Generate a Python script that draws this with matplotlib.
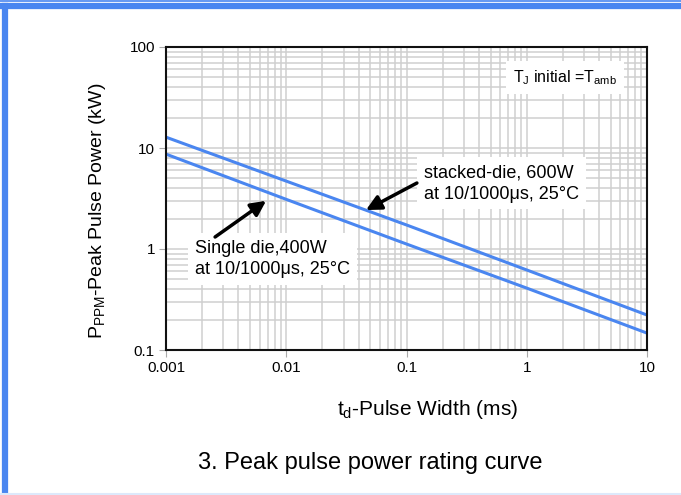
import matplotlib
matplotlib.use("Agg")
import matplotlib.pyplot as plt
from matplotlib.lines import Line2D
from matplotlib.ticker import LogLocator, FixedLocator, FixedFormatter

plt.rcParams["font.family"] = ["Liberation Sans", "DejaVu Sans"]
plt.rcParams["mathtext.default"] = "regular"

# pulse width (ms) and peak pulse power (kW)
pulse_ms = [0.001, 0.01, 0.1, 1, 10]
stacked_kw = [12.8, 4.7, 1.73, 0.62, 0.222]
single_kw = [8.7, 3.1, 1.12, 0.41, 0.147]

x_ticks = [0.001, 0.01, 0.1, 1, 10]
x_labels = ["0.001", "0.01", "0.1", "1", "10"]
y_ticks = [0.1, 1, 10, 100]
y_labels = ["0.1", "1", "10", "100"]

blue = "#4a86f0"
grid_col = "#cfcfcf"

fig = plt.figure(figsize=(6.81, 4.95), dpi=100)
ax = fig.add_axes([166 / 681, 1 - 350 / 495, 481 / 681, 303 / 495])

ax.plot(pulse_ms, stacked_kw, color=blue, lw=2.2)
ax.plot(pulse_ms, single_kw, color=blue, lw=2.2)

ax.set_xscale("log")
ax.set_yscale("log")
ax.set_xlim(0.001, 10)
ax.set_ylim(0.1, 100)
ax.xaxis.set_major_locator(FixedLocator(x_ticks))
ax.xaxis.set_major_formatter(FixedFormatter(x_labels))
ax.yaxis.set_major_locator(FixedLocator(y_ticks))
ax.yaxis.set_major_formatter(FixedFormatter(y_labels))
ax.xaxis.set_minor_locator(LogLocator(base=10, subs=range(2, 10), numticks=20))
ax.yaxis.set_minor_locator(LogLocator(base=10, subs=range(2, 10), numticks=20))
ax.tick_params(which="minor", length=0)
ax.tick_params(which="major", length=5, color="#aaaaaa", labelsize=11, pad=3)
ax.grid(True, which="both", color=grid_col, lw=1.1)
ax.set_axisbelow(True)
for s in ax.spines.values():
    s.set_linewidth(1.5)
    s.set_color("#111111")

ax.set_xlabel("$t_d$-Pulse Width (ms)", fontsize=15)
ax.xaxis.set_label_coords(0.543, -0.157)
ax.set_ylabel("$P_{PPM}$-Peak Pulse Power (kW)", fontsize=14)
ax.yaxis.set_label_coords(-0.121, 0.459)

box = dict(facecolor="white", edgecolor="none", pad=5)
ax.text(0.938, 0.90, "$T_J$ initial =$T_{amb}$", transform=ax.transAxes,
        ha="right", va="center", fontsize=11.5, bbox=box)

arrow = dict(arrowstyle="-|>,head_length=0.9,head_width=0.45",
             color="black", lw=2.5, shrinkA=0, shrinkB=0)

# stacked-die label and arrow (text left edge in axes fraction)
ax.text(0.537, 0.55, "stacked-die, 600W\nat 10/1000\u03bcs, 25\u00b0C",
        transform=ax.transAxes, fontsize=13, ha="left", va="center",
        linespacing=1.35, bbox=box)
ax.annotate("", xy=(0.046, 2.43), xytext=(0.122, 4.5), arrowprops=arrow)

# single die label and arrow
ax.text(0.06, 0.30, "Single die,400W\nat 10/1000\u03bcs, 25\u00b0C",
        transform=ax.transAxes, fontsize=13, ha="left", va="center",
        linespacing=1.35, bbox=box)
ax.annotate("", xy=(0.0068, 3.0), xytext=(0.00256, 1.315), arrowprops=arrow)

fig.text(370 / 681, 1 - 463 / 495, "3. Peak pulse power rating curve",
         ha="center", va="center", fontsize=17)

# blue frame around the screenshot
fig.add_artist(Line2D([0, 1], [1 - 1 / 495, 1 - 1 / 495], color=blue, lw=1.2,
                      transform=fig.transFigure))
fig.add_artist(Line2D([0, 1], [1 - 6 / 495, 1 - 6 / 495], color=blue, lw=4.5,
                      transform=fig.transFigure))
fig.add_artist(Line2D([4.5 / 681, 4.5 / 681], [0, 1 - 6 / 495], color=blue, lw=4.5,
                      transform=fig.transFigure))
fig.add_artist(Line2D([0, 1], [1.5 / 495, 1.5 / 495], color="#dde9fb", lw=1.5,
                      transform=fig.transFigure))

fig.savefig("out.png", dpi=100)
